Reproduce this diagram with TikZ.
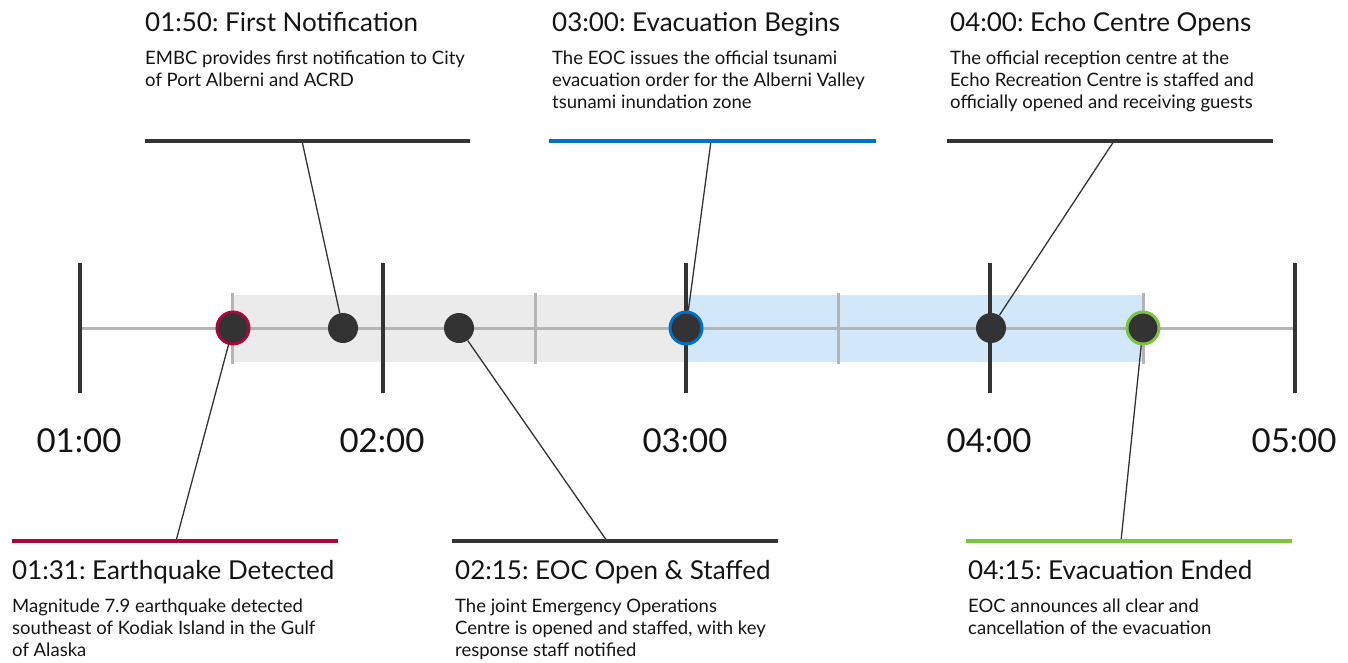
\documentclass[tikz,border=0pt]{standalone}
\usepackage{fontspec}
\setmainfont{Lato}
\usepackage{tikz}
\usetikzlibrary{calc}
\definecolor{sombre}{RGB}{51,51,51}
\definecolor{axe}{RGB}{180,180,180}
\definecolor{bande}{RGB}{235,235,235}
\definecolor{bandebleue}{RGB}{208,232,249}
\definecolor{rouge}{RGB}{166,9,61}
\definecolor{bleu}{RGB}{0,114,198}
\definecolor{vert}{RGB}{122,196,68}
\frenchspacing

\begin{document}
\begin{tikzpicture}[x=1pt,y=-1pt,
    point/.style={circle,fill=sombre,minimum size=30pt,inner sep=0pt},
    cercle/.style={point,minimum size=32pt,draw=#1,line width=3pt},
    titre/.style={anchor=north west,inner sep=0pt,text=black!92,font=\fontsize{26}{30}\selectfont},
    texte/.style={anchor=north west,inner sep=0pt,align=left,text=black!92,font=\fontsize{18.5}{22}\selectfont},
    heure/.style={text=black!92,font=\fontsize{33}{36}\selectfont}]
  \useasboundingbox (0,0) rectangle (1348,662);
  % bandes
  \fill[bande](232,295) rectangle (686,362);
  \fill[bandebleue](686,295) rectangle (1143,362);
  % axe et graduations
  \draw[axe,line width=3pt](80,328)--(1295,328);
  \foreach \x in {232,535,838,1143}{
    \draw[axe,line width=3pt](\x,293)--(\x,364);}
  \foreach \x/\h in {80/01:00,383/02:00,686/03:00,990/04:00,1295/05:00}{
    \draw[sombre,line width=4pt](\x,263)--(\x,393);
    \node[heure] (h\x) at (\x-1,441){\h};}
  % points d'ancrage des barres
  \coordinate (b-seisme) at (176,541);
  \coordinate (b-alerte) at (302,141);
  \coordinate (b-cou) at (607,541);
  \coordinate (b-evac) at (711,141);
  \coordinate (b-echo) at (1114,141);
  \coordinate (b-fin) at (1121,541);
  % evenements
  \node[cercle=rouge] (seisme) at (233,328){};
  \node[point] (alerte) at (343,328){};
  \node[point] (cou) at (459,328){};
  \node[cercle=bleu] (evac) at (686,328){};
  \node[point] (echo) at (991,328){};
  \node[cercle=vert] (fin) at (1143,328){};
  \foreach \e in {seisme,alerte,cou,evac,echo,fin}{
    \draw[sombre,line width=1.3pt](\e)--(b-\e);}
  % barres
  \draw[rouge,line width=4pt](12,541)--(338,541);
  \draw[sombre,line width=4pt](145,141)--(470,141);
  \draw[sombre,line width=4pt](452,541)--(778,541);
  \draw[bleu,line width=4pt](549,141)--(876,141);
  \draw[sombre,line width=4pt](947,141)--(1273,141);
  \draw[vert,line width=4pt](966,541)--(1292,541);
  % textes du haut
  \node[titre] (t-alerte) at (145,12){01:50: First Notification};
  \node[texte] (x-alerte) at (145,51){EMBC provides first notification to City\\of Port Alberni and ACRD};
  \node[titre] (t-evac) at (552,12){03:00: Evacuation Begins};
  \node[texte] (x-evac) at (552,51){The EOC issues the official tsunami\\evacuation order for the Alberni Valley\\tsunami inundation zone};
  \node[titre] (t-echo) at (950,12){04:00: Echo Centre Opens};
  \node[texte] (x-echo) at (950,51){The official reception centre at the\\Echo Recreation Centre is staffed and\\officially opened and receiving guests};
  % textes du bas
  \node[titre] (t-seisme) at (12,560){01:31: Earthquake Detected};
  \node[texte] (x-seisme) at (12,599){Magnitude 7.9 earthquake detected\\southeast of Kodiak Island in the Gulf\\of Alaska};
  \node[titre] (t-cou) at (455,560){02:15: EOC Open \& Staffed};
  \node[texte] (x-cou) at (455,599){The joint Emergency Operations\\Centre is opened and staffed, with key\\response staff notified};
  \node[titre] (t-fin) at (968,560){04:15: Evacuation Ended};
  \node[texte] (x-fin) at (968,599){EOC announces all clear and\\cancellation of the evacuation};
\end{tikzpicture}
\end{document}
